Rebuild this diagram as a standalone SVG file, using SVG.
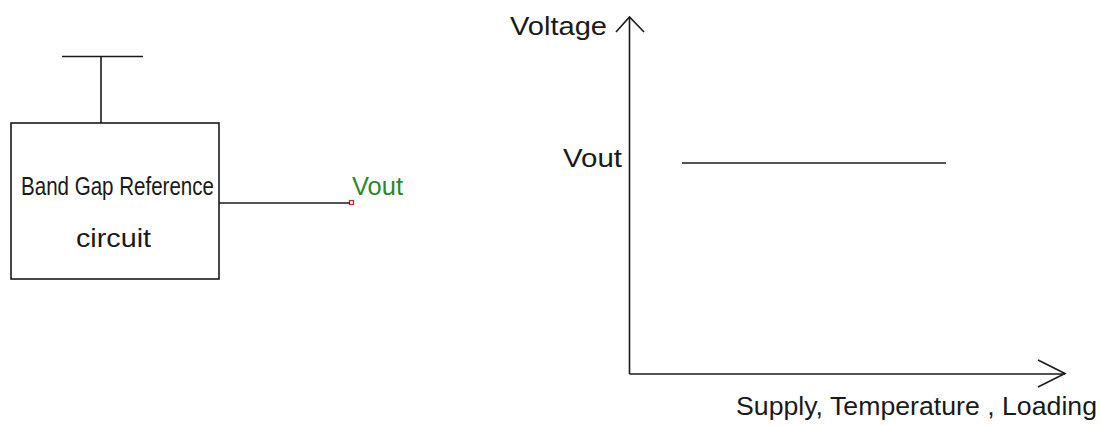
<svg xmlns="http://www.w3.org/2000/svg" width="1101" height="426" viewBox="0 0 1101 426">
<style>
.ln{stroke:#1a1a1a;stroke-width:1.6;fill:none}
.t{font-family:"Liberation Sans",Arial,sans-serif;font-size:25px;fill:#1a1a1a}
.g{fill:#2a8a2a}
</style>
<rect width="1101" height="426" fill="#fff"/>
<g id="supply">
<line class="ln" x1="62" y1="56.5" x2="143" y2="56.5"/>
</g>
<g id="bgr">
<rect class="ln" x="11" y="123" width="208" height="156"/>
<text class="t" x="21" y="195" textLength="193" lengthAdjust="spacingAndGlyphs">Band Gap Reference</text>
<text class="t" x="76" y="247" textLength="75" lengthAdjust="spacingAndGlyphs">circuit</text>
</g>
<g id="vout-pin">
<rect x="349.5" y="200.5" width="4" height="4" fill="#fff" stroke="#e02020" stroke-width="1.2"/>
<text class="t g" x="352" y="195" textLength="51" lengthAdjust="spacingAndGlyphs">Vout</text>
</g>
<g id="chart">
<text class="t" x="510" y="35" textLength="97" lengthAdjust="spacingAndGlyphs">Voltage</text>
<text class="t" x="563" y="167" textLength="59" lengthAdjust="spacingAndGlyphs">Vout</text>
<text class="t" x="736" y="415" textLength="361" lengthAdjust="spacingAndGlyphs">Supply, Temperature , Loading</text>
<line class="ln" x1="682" y1="163" x2="946" y2="163"/>
</g>
<g id="connectors">
<line class="ln" x1="101" y1="56.5" x2="101" y2="123"/>
<line class="ln" x1="219" y1="203" x2="350" y2="203"/>
<line class="ln" x1="629.5" y1="17" x2="629.5" y2="374"/>
<polyline class="ln" points="616,32 629.5,17 644,32"/>
<line class="ln" x1="629.5" y1="374" x2="1065" y2="374"/>
<polyline class="ln" points="1038,360 1065,373.5 1038,387"/>
</g>
</svg>
